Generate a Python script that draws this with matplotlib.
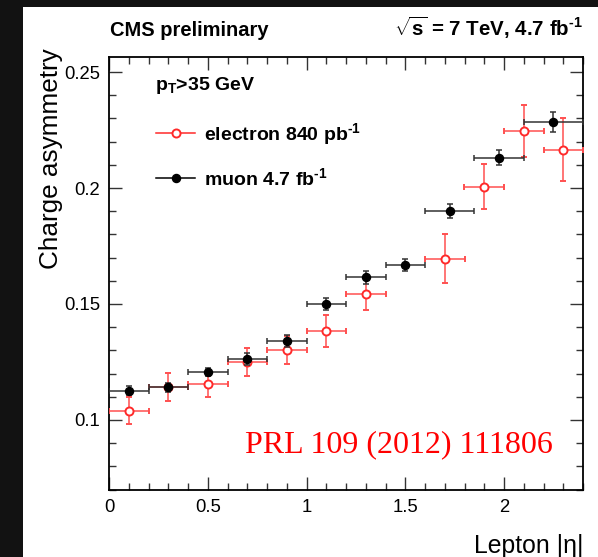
import numpy as np
import matplotlib
matplotlib.use("Agg")
import matplotlib.pyplot as plt
from matplotlib.patches import Rectangle
from matplotlib.lines import Line2D
from matplotlib.ticker import MultipleLocator

plt.rcParams['font.family'] = ['Liberation Sans', 'DejaVu Sans']
plt.rcParams['mathtext.fontset'] = 'custom'
plt.rcParams['mathtext.rm'] = 'Liberation Sans:bold'
plt.rcParams['mathtext.it'] = 'Liberation Sans:bold'
plt.rcParams['mathtext.bf'] = 'Liberation Sans:bold'
plt.rcParams['mathtext.default'] = 'regular'

# muon 4.7 fb-1 (bins 0-0.2,...,1.4-1.6,1.6-1.85,1.85-2.1,2.1-2.4)
mu_eta = [0.1, 0.3, 0.5, 0.7, 0.9, 1.1, 1.3, 1.5, 1.725, 1.975, 2.25]
mu_xerr = [0.1, 0.1, 0.1, 0.1, 0.1, 0.1, 0.1, 0.1, 0.125, 0.125, 0.15]
mu_asym = [0.1126, 0.1141, 0.1206, 0.1263, 0.1340, 0.1499, 0.1616, 0.1668, 0.1900, 0.2130, 0.2285]
mu_err = [0.0020, 0.0020, 0.0016, 0.0024, 0.0025, 0.0025, 0.0028, 0.0025, 0.0030, 0.0032, 0.0045]

# electron 840 pb-1 (crack 1.4-1.6 excluded)
el_eta = [0.1, 0.3, 0.5, 0.7, 0.9, 1.1, 1.3, 1.7, 1.9, 2.1, 2.3]
el_xerr = [0.1] * 11
el_asym = [0.1040, 0.1142, 0.1154, 0.1251, 0.1302, 0.1384, 0.1545, 0.1695, 0.2005, 0.2245, 0.2165]
el_err = [0.0059, 0.0060, 0.0054, 0.0060, 0.0060, 0.0068, 0.0069, 0.0105, 0.0097, 0.0113, 0.0135]

W, H = 598, 557
fig = plt.figure(figsize=(W / 100, H / 100), dpi=100, facecolor='#121212')
fig.add_artist(Rectangle((23 / W, 0), 1 - 23 / W, 1 - 7 / H, transform=fig.transFigure,
                         facecolor='white', edgecolor='none', zorder=0))

ax = fig.add_axes([109 / W, 1 - 490 / H, (583 - 109) / W, (490 - 57) / H])
ax.set_xlim(0, 2.4)
ax.set_ylim(0.0698, 0.2565)

red = '#ff2a2a'
ax.errorbar(el_eta, el_asym, xerr=el_xerr, yerr=el_err, fmt='o', color=red,
            ecolor='#ff5050', elinewidth=1.1, capsize=2.0, capthick=1.1,
            markersize=5.8, markerfacecolor='white', markeredgecolor=red,
            markeredgewidth=1.4, zorder=3)
ax.errorbar(mu_eta, mu_asym, xerr=mu_xerr, yerr=mu_err, fmt='o', color='black',
            ecolor='#333333', elinewidth=1.1, capsize=2.0, capthick=1.1,
            markersize=5.8, zorder=4)

ax.xaxis.set_major_locator(MultipleLocator(0.5))
ax.xaxis.set_minor_locator(MultipleLocator(0.1))
ax.yaxis.set_major_locator(MultipleLocator(0.05))
ax.yaxis.set_minor_locator(MultipleLocator(0.01))
ax.tick_params(which='both', direction='in', top=True, right=True, width=1.0, color='#333333')
ax.tick_params(which='major', length=9.5, labelsize=13.3, pad=6.5)
ax.tick_params(which='minor', length=4.7)
ax.set_xticks([0, 0.5, 1, 1.5, 2])
ax.set_xticklabels(['0', '0.5', '1', '1.5', '2'])
ax.set_yticks([0.1, 0.15, 0.2, 0.25])
ax.set_yticklabels(['0.1', '0.15', '0.2', '0.25'])
for s in ax.spines.values():
    s.set_linewidth(1.3)

# axis titles placed like ROOT: y title flush with frame top, x title flush right
fig.text(63 / W, 1 - 48 / H, 'Charge asymmetry', fontsize=18.8, rotation=90,
         ha='right', va='top')
fig.text(583 / W, 1 - 553 / H, 'Lepton |η|', fontsize=17.8, ha='right', va='baseline')

fig.text(110 / W, 1 - 36 / H, 'CMS preliminary', fontsize=14.5, fontweight='bold',
         va='baseline', ha='left')
fig.text(583 / W, 1 - 36 / H, r'$\sqrt{s}$ = 7 TeV, 4.7 fb$^{\text{-}1}$', fontsize=14.8,
         fontweight='bold', va='baseline', ha='right')

ax.text(0.097, 0.935, r'p$_T$>35 GeV', transform=ax.transAxes, fontsize=14,
        fontweight='bold', va='center', ha='left')

handles = [Line2D([], [], color=red, marker='o', markersize=5.8, markerfacecolor='white',
                  markeredgecolor=red, markeredgewidth=1.4, lw=1.1),
           Line2D([], [], color='black', marker='o', markersize=5.8, lw=1.1)]
leg = ax.legend(handles, [r'electron 840 pb$^{\text{-}1}$', r'muon 4.7 fb$^{\text{-}1}$'],
                loc='upper left', bbox_to_anchor=(0.1, 0.853), frameon=False,
                borderpad=0, borderaxespad=0, handlelength=2.0, handletextpad=0.45,
                labelspacing=1.05, prop={'size': 14, 'weight': 'bold'})

ax.text(0.937, 0.105, 'PRL 109 (2012) 111806', transform=ax.transAxes, color='red',
        fontsize=23, family='Liberation Serif', ha='right', va='center')

fig.savefig('out.png', dpi=100, facecolor=fig.get_facecolor())
